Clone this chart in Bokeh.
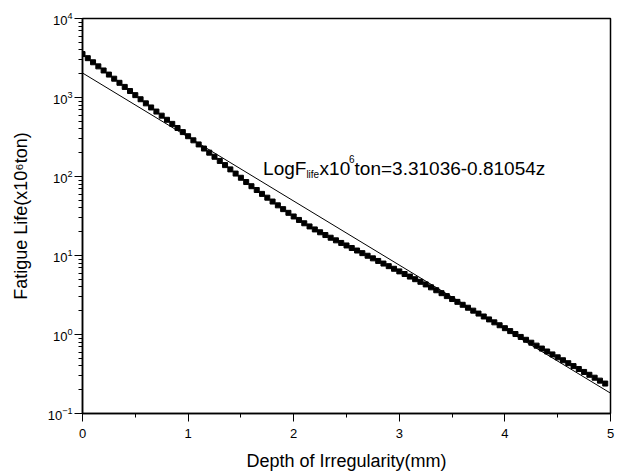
from bokeh.plotting import figure
from bokeh.models import Label
from bokeh.embed import file_html
from bokeh.resources import INLINE

# Depth of irregularity (mm) for the marker series
depth = [round(0.05 * i, 2) for i in range(100)]

# log10 of fatigue life (x10^6 ton)
log_life = [
    3.550, 3.498, 3.446, 3.394, 3.342, 3.290, 3.238, 3.186, 3.134, 3.082,
    3.030, 2.978, 2.926, 2.874, 2.822, 2.770, 2.718, 2.666, 2.614, 2.562,
    2.510, 2.458, 2.406, 2.354, 2.302, 2.250, 2.197, 2.144, 2.090, 2.037,
    1.984, 1.930, 1.877, 1.829, 1.780, 1.732, 1.683, 1.635, 1.587, 1.540,
    1.494, 1.450, 1.408, 1.368, 1.330, 1.294, 1.259, 1.225, 1.192, 1.159,
    1.127, 1.095, 1.063, 1.030, 0.997, 0.964, 0.931, 0.898, 0.865, 0.832,
    0.799, 0.766, 0.733, 0.700, 0.667, 0.634, 0.597, 0.560, 0.523, 0.486,
    0.449, 0.413, 0.376, 0.339, 0.302, 0.265, 0.228, 0.191, 0.154, 0.117,
    0.080, 0.043, 0.006, -0.031, -0.067, -0.104, -0.141, -0.178, -0.215, -0.252,
    -0.289, -0.326, -0.363, -0.400, -0.437, -0.474, -0.510, -0.547, -0.584, -0.621,
]
life = [10 ** v for v in log_life]

# Fitted line: LogF = 3.31036 - 0.81054 z
fit_intercept = 3.31036
fit_slope = -0.81054
fit_depth = [0.0, 5.0]
fit_life = [10 ** (fit_intercept + fit_slope * z) for z in fit_depth]

FONT = "Liberation Sans"

p = figure(width=621, height=475, y_axis_type="log",
           x_range=(0, 5), y_range=(0.1, 1e4),
           output_backend="svg", toolbar_location=None,
           min_border_left=82, min_border_right=11,
           min_border_top=18, min_border_bottom=62)

p.grid.visible = False
p.outline_line_color = "black"
p.outline_line_width = 1.5
p.background_fill_color = "white"

p.line(fit_depth, fit_life, line_color="black", line_width=1)
p.scatter(depth, life, marker="square", size=5, fill_color="black", line_color="black")

for ax in (p.xaxis[0], p.yaxis[0]):
    ax.axis_line_width = 1.5
    ax.axis_line_color = "black"
    ax.major_tick_line_color = "black"
    ax.minor_tick_line_color = "black"
    ax.major_tick_in = 0
    ax.minor_tick_in = 0
    ax.major_tick_out = 8
    ax.minor_tick_out = 4
    ax.major_label_text_font = FONT
    ax.major_label_text_font_size = "13px"
    ax.major_label_text_color = "black"
    ax.axis_label_text_font = FONT
    ax.axis_label_text_font_size = "18px"
    ax.axis_label_text_font_style = "normal"
    ax.axis_label_text_color = "black"

p.xaxis.axis_label = "Depth of Irregularity(mm)"
p.yaxis.axis_label = "Fatigue Life(x10\u2076ton)"
p.xaxis.ticker.desired_num_ticks = 6
p.xaxis.ticker.num_minor_ticks = 2
p.xaxis.major_label_standoff = 7
p.xaxis.axis_label_standoff = 10
p.yaxis.major_label_standoff = 2
p.yaxis.axis_label_standoff = 14

# Equation annotation
ex, ey = 1.71, 125
big, small = "19px", "10px"
parts = [
    ("LogF", 0, 0, big),
    ("life", 43.3, -6, small),
    ("x10", 56.5, 0, big),
    ("6", 85.8, 10, small),
    ("ton=3.31036-0.81054z", 91.5, 0, big),
]
for txt, xo, yo, fs in parts:
    p.add_layout(Label(x=ex, y=ey, x_offset=xo, y_offset=yo, text=txt,
                       text_font=FONT, text_font_size=fs, text_color="black",
                       text_baseline="alphabetic", text_align="left"))

open("out.html", "w").write(file_html(p, INLINE))
